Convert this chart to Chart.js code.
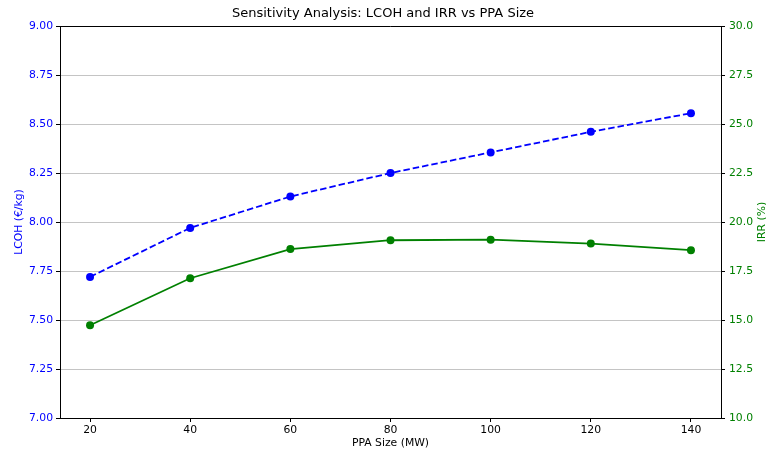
<!DOCTYPE html>
<html>
<head>
<meta charset="utf-8">
<script src="https://cdn.jsdelivr.net/npm/chart.js@4/dist/chart.umd.min.js"></script>
<style>
  html, body { margin: 0; padding: 0; background: #fff; }
</style>
</head>
<body>
<canvas id="chart" width="766" height="453"></canvas>
<script>
// Data
const ppaSizes = [20, 40, 60, 80, 100, 120, 140];
const lcohValues = [7.72, 7.97, 8.13, 8.25, 8.355, 8.46, 8.555];
const irrValues = [14.73, 17.13, 18.62, 19.07, 19.10, 18.90, 18.56];

const xTicks = [20, 40, 60, 80, 100, 120, 140];
const lcohTicks = [7.00, 7.25, 7.50, 7.75, 8.00, 8.25, 8.50, 8.75, 9.00];
const irrTicks = [10.0, 12.5, 15.0, 17.5, 20.0, 22.5, 25.0, 27.5, 30.0];

const lcohColor = '#0000ff';
const irrColor = '#008000';
const fontFamily = '"DejaVu Sans", sans-serif';
const tickSize = 10.8;

const toPoints = (ys) => ppaSizes.map((x, i) => ({ x: x, y: ys[i] }));
const setTicks = (list) => (scale) => { scale.ticks = list.map(v => ({ value: v })); };

// top spine + right axis label (matplotlib style, reads bottom to top)
const frame = {
    id: 'frame',
    afterDraw(chart) {
        const { ctx, chartArea: a } = chart;
        ctx.save();
        ctx.strokeStyle = '#000';
        ctx.lineWidth = 1;
        ctx.beginPath();
        ctx.moveTo(a.left, Math.round(a.top) + 0.5);
        ctx.lineTo(a.right, Math.round(a.top) + 0.5);
        ctx.stroke();

        ctx.translate(762, (a.top + a.bottom) / 2);
        ctx.rotate(-Math.PI / 2);
        ctx.fillStyle = irrColor;
        ctx.font = tickSize + 'px ' + fontFamily;
        ctx.textAlign = 'center';
        ctx.textBaseline = 'middle';
        ctx.fillText('IRR (%)', 0, 0);
        ctx.restore();
    }
};

const ctx = document.getElementById('chart').getContext('2d');

const chart = new Chart(ctx, {
    type: 'line',
    data: {
        datasets: [{
            label: 'LCOH',
            data: toPoints(lcohValues),
            yAxisID: 'y',
            borderColor: lcohColor,
            backgroundColor: lcohColor,
            borderWidth: 1.8,
            borderDash: [6.5, 3],
            pointRadius: 4,
            pointBorderWidth: 0,
            pointBackgroundColor: lcohColor,
            tension: 0
        }, {
            label: 'IRR',
            data: toPoints(irrValues),
            yAxisID: 'y1',
            borderColor: irrColor,
            backgroundColor: irrColor,
            borderWidth: 1.8,
            pointRadius: 4,
            pointBorderWidth: 0,
            pointBackgroundColor: irrColor,
            tension: 0
        }]
    },
    options: {
        responsive: false,
        animation: false,
        layout: { padding: 0 },
        plugins: {
            legend: { display: false },
            tooltip: { enabled: false },
            title: {
                display: true,
                text: 'Sensitivity Analysis: LCOH and IRR vs PPA Size',
                color: '#000',
                font: { family: fontFamily, size: 13, weight: 'normal' },
                padding: { top: 6, bottom: 4.4 }
            }
        },
        scales: {
            x: {
                type: 'linear',
                min: 14,
                max: 146,
                afterBuildTicks: setTicks(xTicks),
                afterFit: (s) => { s.height = 35; },
                grid: { drawOnChartArea: false, tickColor: '#000', tickLength: 4 },
                border: { color: '#000', width: 1 },
                ticks: {
                    color: '#000',
                    padding: 2,
                    maxRotation: 0,
                    font: { family: fontFamily, size: tickSize }
                },
                title: {
                    display: true,
                    text: 'PPA Size (MW)',
                    color: '#000',
                    font: { family: fontFamily, size: tickSize },
                    padding: { top: 0, bottom: 3.4 }
                }
            },
            y: {
                position: 'left',
                min: 7,
                max: 9,
                afterBuildTicks: setTicks(lcohTicks),
                afterFit: (s) => { s.width = 60; },
                grid: { color: '#c4c4c4', lineWidth: 1, tickColor: '#000', tickLength: 4 },
                border: { color: '#000', width: 1 },
                ticks: {
                    color: lcohColor,
                    padding: 3,
                    font: { family: fontFamily, size: tickSize },
                    callback: (v) => v.toFixed(2)
                },
                title: {
                    display: true,
                    text: 'LCOH (€/kg)',
                    color: lcohColor,
                    font: { family: fontFamily, size: tickSize },
                    padding: { top: 12.5, bottom: 0 }
                }
            },
            y1: {
                position: 'right',
                min: 10,
                max: 30,
                afterBuildTicks: setTicks(irrTicks),
                afterFit: (s) => { s.width = 45; },
                grid: { drawOnChartArea: false, tickColor: '#000', tickLength: 4 },
                border: { color: '#000', width: 1 },
                ticks: {
                    color: irrColor,
                    padding: 4,
                    font: { family: fontFamily, size: tickSize },
                    callback: (v) => v.toFixed(1)
                },
                title: { display: false }
            }
        }
    },
    plugins: [frame]
});
</script>
</body>
</html>
